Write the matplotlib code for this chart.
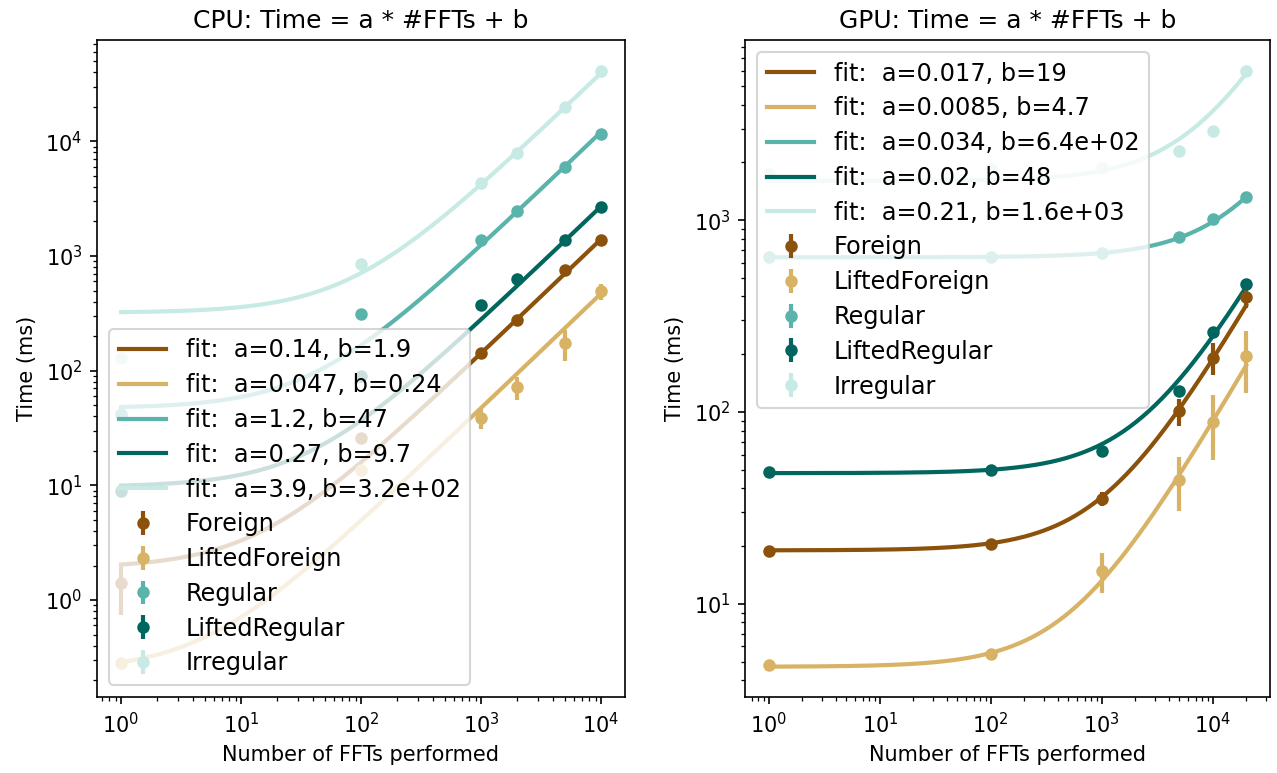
import numpy as np
import matplotlib
matplotlib.use('Agg')
import matplotlib.pyplot as plt

plt.rcParams['font.family'] = 'DejaVu Sans'
plt.rcParams['mathtext.fontset'] = 'cm'
plt.rcParams['font.size'] = 10
plt.rcParams['legend.fontsize'] = 11.5
plt.rcParams['legend.labelspacing'] = 0.45

# ── Data ─────────────────────────────────────────────────────
names = ['Foreign', 'LiftedForeign', 'Regular', 'LiftedRegular', 'Irregular']
colors = ['#8c510a', '#d8b365', '#5ab4ac', '#01665e', '#c7eae5']

cpu_x = [1, 100, 1000, 2000, 5000, 10000]
cpu_foreign = [1.4, 26, 142, 275, 750, 1370]
cpu_foreign_err = [0.66, 2, 8, 15, 40, 50]
cpu_lifted_foreign = [0.28, 13.5, 38.5, 72, 174, 492]
cpu_lifted_foreign_err = [0.02, 1, 7.5, 16, 53, 80]
cpu_regular = [42, 314, 1370, 2480, 5950, 11700]
cpu_regular_err = [2, 10, 40, 60, 150, 300]
cpu_lifted_regular = [8.9, 90, 372, 625, 1370, 2700]
cpu_lifted_regular_err = [0.3, 3, 10, 15, 40, 60]
cpu_irregular = [130, 855, 4300, 7950, 19800, 41100]
cpu_irregular_err = [5, 20, 100, 200, 500, 900]
cpu_a = [0.14, 0.047, 1.2, 0.27, 3.9]
cpu_b = [1.9, 0.24, 47, 9.7, 320]

gpu_x = [1, 100, 1000, 5000, 10000, 20000]
gpu_foreign = [18.9, 20.5, 35.3, 101, 192, 398]
gpu_foreign_err = [0.5, 0.5, 3, 16, 36, 50]
gpu_lifted_foreign = [4.78, 5.51, 14.9, 44.4, 89, 195]
gpu_lifted_foreign_err = [0.1, 0.15, 3.5, 14, 33, 70]
gpu_regular = [643, 645, 677, 818, 1010, 1313]
gpu_regular_err = [5, 5, 10, 15, 20, 30]
gpu_lifted_regular = [48.6, 50, 62.5, 128, 260, 462]
gpu_lifted_regular_err = [1, 1, 2, 4, 8, 10]
gpu_irregular = [1750, 1850, 1880, 2300, 2930, 5970]
gpu_irregular_err = [20, 20, 30, 40, 60, 100]
gpu_a = [0.017, 0.0085, 0.034, 0.02, 0.21]
gpu_b = [19, 4.7, 640, 48, 1600]


def panel(ax, title, x, ys, errs, a_list, b_list):
    xf = np.geomspace(x[0], x[-1], 300)
    for a, b, c in zip(a_list, b_list, colors):
        ax.plot(xf, a * xf + b, color=c, lw=2,
                label='fit:  a=%.2g, b=%.2g' % (a, b))
    for y, e, c, n in zip(ys, errs, colors, names):
        ax.errorbar(x, y, yerr=e, fmt='o', color=c, ms=5,
                    elinewidth=2, label=n)
    ax.set_xscale('log')
    ax.set_yscale('log')
    ax.set_title(title)
    ax.set_xlabel('Number of FFTs performed')
    ax.set_ylabel('Time (ms)')


fig = plt.figure(figsize=(1277 / 150, 773 / 150), dpi=150)
ax1 = fig.add_axes([97 / 1277, 1 - 697 / 773, 528 / 1277, 657 / 773])
ax2 = fig.add_axes([745 / 1277, 1 - 697 / 773, 525 / 1277, 657 / 773])

panel(ax1, 'CPU: Time = a * #FFTs + b', cpu_x,
      [cpu_foreign, cpu_lifted_foreign, cpu_regular, cpu_lifted_regular, cpu_irregular],
      [cpu_foreign_err, cpu_lifted_foreign_err, cpu_regular_err,
       cpu_lifted_regular_err, cpu_irregular_err],
      cpu_a, cpu_b)
panel(ax2, 'GPU: Time = a * #FFTs + b', gpu_x,
      [gpu_foreign, gpu_lifted_foreign, gpu_regular, gpu_lifted_regular, gpu_irregular],
      [gpu_foreign_err, gpu_lifted_foreign_err, gpu_regular_err,
       gpu_lifted_regular_err, gpu_irregular_err],
      gpu_a, gpu_b)

ax1.legend(loc='lower left')
ax2.legend(loc='upper left')

fig.savefig('out.png', dpi=150)
